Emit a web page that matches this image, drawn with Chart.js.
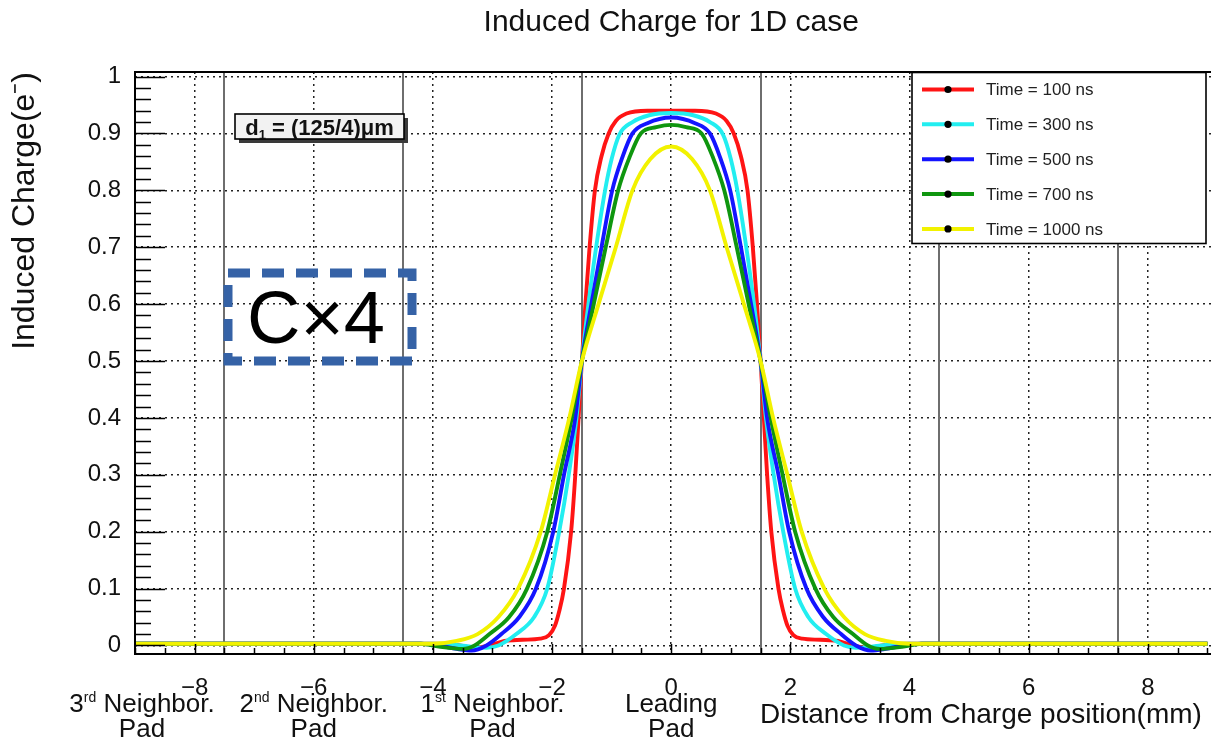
<!DOCTYPE html>
<html>
<head>
<meta charset="utf-8">
<title>Induced Charge for 1D case</title>
<script src="https://cdn.jsdelivr.net/npm/chart.js@4.4.1/dist/chart.umd.min.js"></script>
<style>
  html, body { margin: 0; padding: 0; background: #ffffff; }
  canvas { display: block; }
</style>
</head>
<body>
<canvas id="chart" width="1211" height="743"></canvas>
<script>
const FONT = "'Liberation Sans', Arial, Helvetica, sans-serif";
const TITLE = 'Induced Charge for 1D case';

// Induced charge (e-) versus distance from the charge position (mm), one curve per drift time
const t100X = [-9, -4, -3.6, -3.3, -3.05, -2.8, -2.5, -2.2, -2.05, -1.95, -1.88, -1.8, -1.68, -1.61, -1.555, -1.5, -1.44, -1.37, -1.28, -1.17, -1.05, -0.93, -0.75, -0.4, 0,
               0.4, 0.75, 0.93, 1.05, 1.17, 1.28, 1.37, 1.44, 1.5, 1.555, 1.61, 1.68, 1.8, 1.88, 1.95, 2.05, 2.2, 2.5, 2.8, 3.05, 3.3, 3.6, 4, 9];
const t100Y = [0.003, 0.003, 0.001, -0.004, 0.0, 0.008, 0.010, 0.012, 0.018, 0.035, 0.06, 0.10, 0.20, 0.30, 0.40, 0.50, 0.60, 0.70, 0.80, 0.86, 0.90, 0.922, 0.935, 0.94, 0.94,
               0.94, 0.935, 0.922, 0.90, 0.86, 0.80, 0.70, 0.60, 0.50, 0.40, 0.30, 0.20, 0.10, 0.06, 0.035, 0.018, 0.012, 0.010, 0.008, 0.0, -0.004, 0.001, 0.003, 0.003];

const t300X = [-9, -4, -3.6, -3.3, -3.1, -2.9, -2.6, -2.3, -2.08, -1.88, -1.72, -1.59, -1.5, -1.39, -1.26, -1.11, -1.0, -0.87, -0.65, -0.37, 0,
               0.37, 0.65, 0.87, 1.0, 1.11, 1.26, 1.39, 1.5, 1.59, 1.72, 1.88, 2.08, 2.3, 2.6, 2.9, 3.1, 3.3, 3.6, 4, 9];
const t300Y = [0.003, 0.003, 0.001, -0.003, -0.004, 0.0, 0.02, 0.05, 0.10, 0.20, 0.30, 0.40, 0.50, 0.60, 0.70, 0.80, 0.855, 0.898, 0.920, 0.932, 0.936,
               0.932, 0.920, 0.898, 0.855, 0.80, 0.70, 0.60, 0.50, 0.40, 0.30, 0.20, 0.10, 0.05, 0.02, 0.0, -0.004, -0.003, 0.001, 0.003, 0.003];

const t500X = [-9, -4.2, -3.9, -3.6, -3.35, -3.1, -2.85, -2.55, -2.27, -1.98, -1.8, -1.61, -1.5, -1.34, -1.17, -0.99, -0.82, -0.65, -0.4, 0,
               0.4, 0.65, 0.82, 0.99, 1.17, 1.34, 1.5, 1.61, 1.8, 1.98, 2.27, 2.55, 2.85, 3.1, 3.35, 3.6, 3.9, 4.2, 9];
const t500Y = [0.003, 0.003, 0.0, -0.006, -0.009, 0.0, 0.02, 0.05, 0.10, 0.20, 0.30, 0.40, 0.50, 0.60, 0.70, 0.80, 0.858, 0.90, 0.918, 0.928,
               0.918, 0.90, 0.858, 0.80, 0.70, 0.60, 0.50, 0.40, 0.30, 0.20, 0.10, 0.05, 0.02, 0.0, -0.009, -0.006, 0.0, 0.003, 0.003];

const t700X = [-9, -4.2, -3.9, -3.5, -3.3, -3.05, -2.72, -2.42, -2.08, -1.87, -1.67, -1.5, -1.3, -1.1, -0.89, -0.7, -0.51, -0.25, 0,
               0.25, 0.51, 0.7, 0.89, 1.1, 1.3, 1.5, 1.67, 1.87, 2.08, 2.42, 2.72, 3.05, 3.3, 3.5, 3.9, 4.2, 9];
const t700Y = [0.003, 0.003, -0.002, -0.006, 0.0, 0.02, 0.05, 0.10, 0.20, 0.30, 0.40, 0.50, 0.60, 0.70, 0.80, 0.858, 0.90, 0.911, 0.915,
               0.911, 0.90, 0.858, 0.80, 0.70, 0.60, 0.50, 0.40, 0.30, 0.20, 0.10, 0.05, 0.02, 0.0, -0.006, -0.002, 0.003, 0.003];

const t1000X = [-9, -4, -3.6, -3.25, -2.9, -2.57, -2.19, -1.95, -1.71, -1.5, -1.22, -0.93, -0.65, -0.35, 0,
                0.35, 0.65, 0.93, 1.22, 1.5, 1.71, 1.95, 2.19, 2.57, 2.9, 3.25, 3.6, 4, 9];
const t1000Y = [0.003, 0.003, 0.008, 0.02, 0.05, 0.10, 0.20, 0.30, 0.40, 0.50, 0.60, 0.70, 0.80, 0.855, 0.877,
                0.855, 0.80, 0.70, 0.60, 0.50, 0.40, 0.30, 0.20, 0.10, 0.05, 0.02, 0.008, 0.003, 0.003];

const seriesLabels = ['Time = 100 ns', 'Time = 300 ns', 'Time = 500 ns', 'Time = 700 ns', 'Time = 1000 ns'];
const seriesColors = ['#ff1414', '#22eef0', '#1414ff', '#0f960f', '#f2f200'];

// Axis tick values, pad boundaries (3 mm pads) and pad names under the axis
const xTickValues = [-8, -6, -4, -2, 0, 2, 4, 6, 8];
const yTickValues = [0, 0.1, 0.2, 0.3, 0.4, 0.5, 0.6, 0.7, 0.8, 0.9, 1];
const padEdges = [-7.5, -4.5, -1.5, 1.5, 4.5, 7.5];
const padCenters = [-9, -6, -3, 0];
const padNames = [['3', 'rd', ' Neighbor.'], ['2', 'nd', ' Neighbor.'], ['1', 'st', ' Neighbor.'], ['Leading', '', '']];

const xs = [t100X, t300X, t500X, t700X, t1000X];
const ys = [t100Y, t300Y, t500Y, t700Y, t1000Y];

// later drift times are drawn over earlier ones
const datasets = seriesLabels.map((label, i) => ({
  label,
  data: xs[i].map((x, k) => ({ x, y: ys[i][k] })),
  borderColor: seriesColors[i],
  backgroundColor: seriesColors[i],
  borderWidth: 3.9,
  pointRadius: 0,
  fill: false,
  order: seriesLabels.length - i,
  cubicInterpolationMode: 'monotone'
}));

function strokeLine(ctx, x1, y1, x2, y2) {
  ctx.beginPath(); ctx.moveTo(x1, y1); ctx.lineTo(x2, y2); ctx.stroke();
}

// text with a raised small part, centred on cx
function drawScripted(ctx, parts, cx, baseY, size, shift) {
  const [a, s, b] = parts;
  const small = `${Math.round(size * 0.55)}px ${FONT}`;
  const big = `${size}px ${FONT}`;
  ctx.font = big;
  const wa = ctx.measureText(a).width, wb = ctx.measureText(b).width;
  ctx.font = small;
  const ws = s ? ctx.measureText(s).width : 0;
  let x0 = cx - (wa + ws + wb) / 2;
  ctx.textAlign = 'left';
  ctx.textBaseline = 'alphabetic';
  ctx.font = big;
  ctx.fillText(a, x0, baseY);
  x0 += wa;
  if (s) {
    ctx.font = small;
    ctx.fillText(s, x0, baseY + shift);
    x0 += ws;
  }
  ctx.font = big;
  ctx.fillText(b, x0, baseY);
}

const decor = {
  id: 'decor',
  beforeDatasetsDraw(chart) {
    const { ctx, chartArea: a, scales: { x } } = chart;
    ctx.save();
    ctx.strokeStyle = '#6e6e6e';
    ctx.lineWidth = 2;
    padEdges.forEach(v => {
      const px = Math.round(x.getPixelForValue(v));
      strokeLine(ctx, px, a.top, px, a.bottom);
    });
    ctx.restore();
  },
  afterDatasetsDraw(chart) {
    const { ctx, chartArea: a, scales: { x, y } } = chart;
    ctx.save();

    // legend
    const L = { x: 912, y: 72.5, w: 294, h: 171 };
    ctx.fillStyle = '#ffffff';
    ctx.fillRect(L.x, L.y, L.w, L.h);
    ctx.strokeStyle = '#000000';
    ctx.lineWidth = 1.6;
    ctx.strokeRect(L.x, L.y, L.w, L.h);
    chart.data.datasets.forEach((ds, i) => {
      const ry = L.y + 17 + i * 34.85;
      ctx.strokeStyle = ds.borderColor;
      ctx.lineWidth = 4;
      strokeLine(ctx, L.x + 10, ry, L.x + 62, ry);
      ctx.fillStyle = '#000000';
      ctx.beginPath(); ctx.arc(L.x + 36, ry, 3.6, 0, Math.PI * 2); ctx.fill();
      ctx.fillStyle = '#222222';
      ctx.font = `17px ${FONT}`;
      ctx.textAlign = 'left';
      ctx.textBaseline = 'middle';
      ctx.fillText(ds.label, L.x + 74, ry + 1);
    });

    // pad size label
    const B = { x: 235, y: 114, w: 169, h: 25 };
    ctx.fillStyle = '#3a3a3a';
    ctx.fillRect(B.x + 4, B.y + 4, B.w, B.h);
    ctx.fillStyle = '#f2f2f2';
    ctx.fillRect(B.x, B.y, B.w, B.h);
    ctx.strokeStyle = '#000000';
    ctx.lineWidth = 1.6;
    ctx.strokeRect(B.x, B.y, B.w, B.h);
    ctx.fillStyle = '#111111';
    {
      const size = 22;
      const rest = ' = (125/4)\u03BCm';
      ctx.font = `bold ${size}px ${FONT}`;
      const w1 = ctx.measureText('d').width;
      const w3 = ctx.measureText(rest).width;
      ctx.font = `bold ${Math.round(size * 0.6)}px ${FONT}`;
      const w2 = ctx.measureText('1').width;
      let tx = B.x + B.w / 2 - (w1 + w2 + w3) / 2;
      const by = B.y + B.h / 2 + 8;
      ctx.textAlign = 'left';
      ctx.textBaseline = 'alphabetic';
      ctx.font = `bold ${size}px ${FONT}`;
      ctx.fillText('d', tx, by); tx += w1;
      ctx.font = `bold ${Math.round(size * 0.6)}px ${FONT}`;
      ctx.fillText('1', tx, by + 4); tx += w2;
      ctx.font = `bold ${size}px ${FONT}`;
      ctx.fillText(rest, tx, by);
    }

    // C×4 marker
    ctx.strokeStyle = '#3562a6';
    ctx.lineWidth = 9;
    ctx.setLineDash([22, 12]);
    ctx.strokeRect(228, 273, 184, 88);
    ctx.setLineDash([]);
    ctx.fillStyle = '#000000';
    ctx.font = `74px ${FONT}`;
    ctx.textAlign = 'center';
    ctx.textBaseline = 'alphabetic';
    ctx.fillText('C\u00D74', 316, 343);

    // frame
    ctx.strokeStyle = '#000000';
    ctx.lineWidth = 2;
    ctx.beginPath();
    ctx.moveTo(a.right, a.top); ctx.lineTo(a.left, a.top);
    ctx.lineTo(a.left, a.bottom); ctx.lineTo(a.right, a.bottom);
    ctx.stroke();

    // inward tick marks
    ctx.lineWidth = 1.5;
    for (let k = 0; k <= 50; k++) {
      const py = Math.round(y.getPixelForValue(k * 0.02)) + 0.5;
      strokeLine(ctx, a.left, py, a.left + (k % 5 === 0 ? 30 : 16), py);
    }
    for (let k = -18; k <= 18; k++) {
      const px = Math.round(x.getPixelForValue(k * 0.5)) + 0.5;
      if (px > a.right) continue;
      strokeLine(ctx, px, a.bottom, px, a.bottom - (k % 4 === 0 ? 10 : 6));
    }
    ctx.restore();
  },
  afterDraw(chart) {
    const { ctx, scales: { x } } = chart;
    ctx.save();
    ctx.fillStyle = '#111111';

    // title, centred over the plot
    ctx.font = `30px ${FONT}`;
    ctx.textAlign = 'center';
    ctx.textBaseline = 'middle';
    ctx.fillText(TITLE, x.getPixelForValue(0), 23);

    padCenters.forEach((v, i) => {
      const cx = x.getPixelForValue(v) + (i === 0 ? 7 : 0);
      drawScripted(ctx, padNames[i], cx, 712, 26, -10);
      ctx.font = `26px ${FONT}`;
      ctx.textAlign = 'center';
      ctx.textBaseline = 'alphabetic';
      ctx.fillText('Pad', cx, 737);
    });
    ctx.font = `28px ${FONT}`;
    ctx.textAlign = 'left';
    ctx.textBaseline = 'alphabetic';
    ctx.fillText('Distance from Charge position(mm)', 760, 723);
    ctx.restore();
  }
};

new Chart(document.getElementById('chart'), {
  type: 'line',
  data: { datasets },
  plugins: [decor],
  options: {
    responsive: false,
    animation: false,
    devicePixelRatio: 1,
    layout: { padding: { left: 0, right: 0, top: 72, bottom: 0 } },
    plugins: {
      legend: { display: false },
      tooltip: { enabled: false },
      title: { display: false }
    },
    scales: {
      x: {
        type: 'linear',
        min: -9,
        max: 9.06,
        afterFit(s) { s.height = 89; },
        afterBuildTicks(s) { s.ticks = xTickValues.map(v => ({ value: v })); },
        grid: { color: '#222222', lineWidth: 1.5, drawTicks: false },
        border: { display: false, dash: [2, 4] },
        ticks: {
          padding: 20,
          color: '#111111',
          autoSkip: false,
          maxRotation: 0,
          font: { family: FONT, size: 24 },
          callback: v => String(v).replace('-', '\u2212')
        }
      },
      y: {
        type: 'linear',
        min: -0.015,
        max: 1.008,
        afterFit(s) { s.width = 135; },
        afterBuildTicks(s) { s.ticks = yTickValues.map(v => ({ value: v })); },
        grid: { color: '#222222', lineWidth: 1.5, drawTicks: false },
        border: { display: false, dash: [2, 4] },
        ticks: {
          padding: 14,
          color: '#111111',
          font: { family: FONT, size: 24 },
          callback: v => String(v)
        },
        title: {
          display: true,
          text: 'Induced Charge(e\u207B)',
          align: 'end',
          color: '#111111',
          font: { family: FONT, size: 32 },
          padding: { top: 6, bottom: 0 }
        }
      }
    }
  }
});
</script>
</body>
</html>
